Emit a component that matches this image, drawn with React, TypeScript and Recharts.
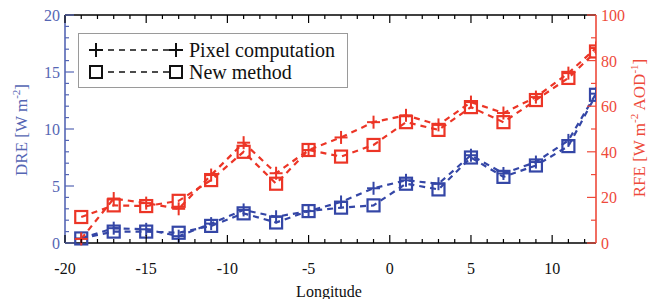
import { Line, LineChart, XAxis, YAxis } from 'recharts';

const longitudes = [-19, -17, -15, -13, -11, -9, -7, -5, -3, -1, 1, 3, 5, 7, 9, 11, 12.7];
const drePixel = [0.4, 1.3, 1.2, 0.6, 1.7, 2.9, 2.3, 2.8, 3.6, 4.8, 5.5, 5.2, 7.7, 6.1, 7.1, 9.0, 13.1];
const dreNew = [0.4, 1.0, 1.0, 0.9, 1.5, 2.6, 1.8, 2.8, 3.1, 3.3, 5.2, 4.7, 7.5, 5.8, 6.8, 8.5, 13.0];
const rfePixel = [1.8, 19.5, 17.5, 15, 29.8, 44, 30.6, 40.8, 46.3, 53, 56, 51.8, 61.8, 57, 64, 74.5, 85.5];
const rfeNew = [11.4, 16.5, 16.2, 18.5, 27.6, 40, 26, 40.8, 37.9, 43, 53, 49.6, 59.6, 53, 62.7, 72.4, 84];

const lonTicks = Array.from({ length: 33 }, (_, i) => i - 20);
const dreTicks = Array.from({ length: 21 }, (_, i) => i);
const rfeTicks = Array.from({ length: 11 }, (_, i) => i * 10);

const data = longitudes.map((lon, i) => ({
  lon,
  drePixel: drePixel[i],
  dreNew: dreNew[i],
  rfePixel: rfePixel[i],
  rfeNew: rfeNew[i],
}));

const BLUE = '#3446a6';
const RED = '#ec3526';
const AXIS_BLUE = '#5566b4';
const AXIS_RED = '#ee4a3a';
const FONT = '"Liberation Serif", "Times New Roman", serif';

function plusDot(color: string) {
  return (props: any) => {
    const { cx, cy, index } = props;
    if (cx == null || cy == null) return <g key={index} />;
    return (
      <g key={index} stroke={color} strokeWidth={2}>
        <line x1={cx - 6.5} y1={cy} x2={cx + 6.5} y2={cy} />
        <line x1={cx} y1={cy - 6.5} x2={cx} y2={cy + 6.5} />
      </g>
    );
  };
}

function squareDot(color: string) {
  return (props: any) => {
    const { cx, cy, index } = props;
    if (cx == null || cy == null) return <g key={index} />;
    return <rect key={index} x={cx - 6} y={cy - 6} width={12} height={12} fill="none" stroke={color} strokeWidth={2.2} />;
  };
}

function BottomTick({ x, y, payload }: any) {
  const major = payload.value % 5 === 0;
  return (
    <g>
      <line x1={x} y1={y} x2={x} y2={y - (major ? 8 : 4)} stroke="#000" strokeWidth={1.2} />
      {major && (
        <text x={x} y={y + 31} textAnchor="middle" fontSize={16} fontFamily={FONT} fill="#111">
          {payload.value}
        </text>
      )}
    </g>
  );
}

function TopTick({ x, y, payload }: any) {
  const major = payload.value % 5 === 0;
  return <line x1={x} y1={y} x2={x} y2={y + (major ? 8 : 4)} stroke="#000" strokeWidth={1.2} />;
}

function LeftTick({ x, y, payload }: any) {
  const major = payload.value % 5 === 0;
  return (
    <g>
      <line x1={x} y1={y} x2={x + (major ? 9 : 4)} y2={y} stroke={AXIS_BLUE} strokeWidth={1.2} />
      {major && (
        <text x={x - 5} y={y + 6} textAnchor="end" fontSize={16} fontFamily={FONT} fill={AXIS_BLUE}>
          {payload.value}
        </text>
      )}
    </g>
  );
}

function RightTick({ x, y, payload }: any) {
  const major = payload.value % 20 === 0;
  return (
    <g>
      <line x1={x} y1={y} x2={x - (major ? 9 : 5)} y2={y} stroke={AXIS_RED} strokeWidth={1.2} />
      {major && (
        <text x={x + 5} y={y + 6} textAnchor="start" fontSize={16} fontFamily={FONT} fill={AXIS_RED}>
          {payload.value}
        </text>
      )}
    </g>
  );
}

function Legend() {
  const row = (marker: 'plus' | 'square', label: string) => (
    <div style={{ display: 'flex', alignItems: 'center', height: 22 }}>
      <svg width={104} height={20} style={{ display: 'block' }}>
        <line x1={14} y1={10} x2={92} y2={10} stroke="#111" strokeWidth={1.6} strokeDasharray="6 5" />
        {marker === 'plus' ? (
          <g stroke="#111" strokeWidth={2}>
            <line x1={6} y1={10} x2={20} y2={10} />
            <line x1={13} y1={3} x2={13} y2={17} />
            <line x1={86} y1={10} x2={100} y2={10} />
            <line x1={93} y1={3} x2={93} y2={17} />
          </g>
        ) : (
          <g stroke="#111" strokeWidth={2} fill="#fff">
            <rect x={7} y={4} width={12} height={12} />
            <rect x={87} y={4} width={12} height={12} />
          </g>
        )}
      </svg>
      <span style={{ fontFamily: FONT, fontSize: 20, color: '#111', marginLeft: 2, lineHeight: '20px' }}>{label}</span>
    </div>
  );
  return (
    <div
      style={{
        position: 'absolute',
        left: 78,
        top: 33,
        width: 270,
        height: 55,
        border: '1px solid #9a9a9a',
        background: '#fff',
        boxSizing: 'border-box',
        paddingTop: 5,
        paddingLeft: 4,
      }}
    >
      {row('plus', 'Pixel computation')}
      {row('square', 'New method')}
    </div>
  );
}

export default function App() {
  return (
    <div style={{ position: 'absolute', left: 0, top: 0, width: 651, height: 299, background: '#fff' }}>
      <LineChart width={651} height={299} data={data} margin={{ top: 0, right: 0, bottom: 0, left: 0 }}>
        <XAxis
          xAxisId="b"
          type="number"
          dataKey="lon"
          domain={[-20, 12.7]}
          ticks={lonTicks}
          interval={0}
          tickSize={0}
          tickMargin={0}
          height={56}
          tick={<BottomTick />}
          axisLine={{ stroke: '#000', strokeWidth: 1.4 }}
          allowDataOverflow
          label={{
            content: () => (
              <text x={329} y={297} textAnchor="middle" fontSize={16} fontFamily={FONT} fill="#111">
                Longitude
              </text>
            ),
          }}
        />
        <XAxis
          xAxisId="t"
          orientation="top"
          type="number"
          dataKey="lon"
          domain={[-20, 12.7]}
          ticks={lonTicks}
          interval={0}
          tickSize={0}
          tickMargin={0}
          height={15}
          tick={<TopTick />}
          axisLine={{ stroke: '#000', strokeWidth: 1.4 }}
          allowDataOverflow
        />
        <YAxis
          yAxisId="l"
          domain={[0, 20]}
          ticks={dreTicks}
          interval={0}
          tickSize={0}
          tickMargin={0}
          width={65}
          tick={<LeftTick />}
          axisLine={{ stroke: AXIS_BLUE, strokeWidth: 1.6 }}
          label={{
            content: () => (
              <text
                transform="translate(27,130) rotate(-90)"
                textAnchor="middle"
                fontSize={17}
                fontFamily={FONT}
                fill={AXIS_BLUE}
              >
                DRE [W m
                <tspan fontSize={11} dy={-7}>-2</tspan>
                <tspan dy={7}>]</tspan>
              </text>
            ),
          }}
        />
        <YAxis
          yAxisId="r"
          orientation="right"
          domain={[0, 100]}
          ticks={rfeTicks}
          interval={0}
          tickSize={0}
          tickMargin={0}
          width={55}
          tick={<RightTick />}
          axisLine={{ stroke: AXIS_RED, strokeWidth: 1.6 }}
          label={{
            content: () => (
              <text
                transform="translate(645,128) rotate(-90)"
                textAnchor="middle"
                fontSize={17}
                fontFamily={FONT}
                fill={AXIS_RED}
              >
                RFE [W m
                <tspan fontSize={11} dy={-7}>-2</tspan>
                <tspan dy={7}> AOD</tspan>
                <tspan fontSize={11} dy={-7}>-1</tspan>
                <tspan dy={7}>]</tspan>
              </text>
            ),
          }}
        />
        <Line
          xAxisId="b"
          yAxisId="l"
          dataKey="drePixel"
          stroke={BLUE}
          strokeWidth={2.2}
          strokeDasharray="6 5"
          dot={plusDot(BLUE)}
          isAnimationActive={false}
        />
        <Line
          xAxisId="b"
          yAxisId="l"
          dataKey="dreNew"
          stroke={BLUE}
          strokeWidth={2.2}
          strokeDasharray="6 5"
          dot={squareDot(BLUE)}
          isAnimationActive={false}
        />
        <Line
          xAxisId="t"
          yAxisId="r"
          dataKey="rfePixel"
          stroke={RED}
          strokeWidth={2.2}
          strokeDasharray="6 5"
          dot={plusDot(RED)}
          isAnimationActive={false}
        />
        <Line
          xAxisId="t"
          yAxisId="r"
          dataKey="rfeNew"
          stroke={RED}
          strokeWidth={2.2}
          strokeDasharray="6 5"
          dot={squareDot(RED)}
          isAnimationActive={false}
        />
      </LineChart>
      <Legend />
    </div>
  );
}
